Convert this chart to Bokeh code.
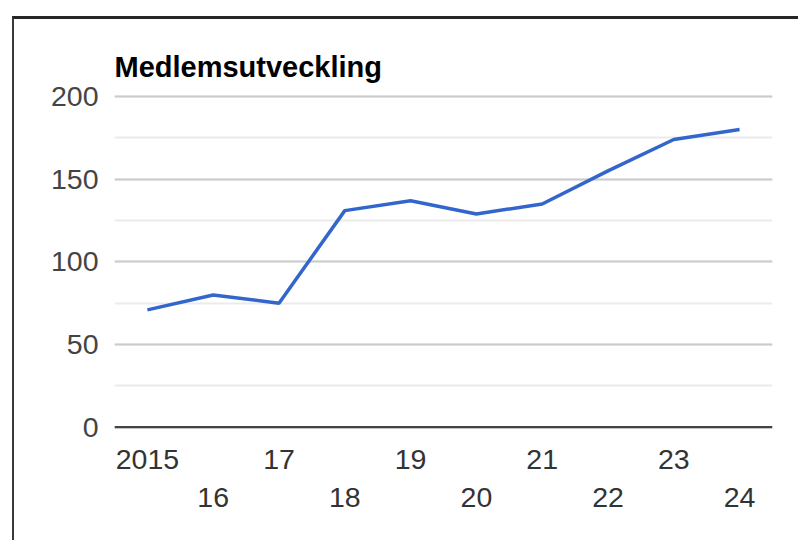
from bokeh.plotting import figure
from bokeh.layouts import column, row
from bokeh.models import Range1d, FixedTicker, LinearAxis, Span, SingleIntervalTicker, Spacer
from bokeh.embed import file_html
from bokeh.resources import INLINE

# ---- data ----
years = ["2015", "16", "17", "18", "19", "20", "21", "22", "23", "24"]
members = [71, 80, 75, 131, 137, 129, 135, 155, 174, 180]
title_text = "Medlemsutveckling"

FONT = "Liberation Sans"
idx = list(range(len(years)))

p = figure(width=786, height=524, output_backend="svg", toolbar_location=None,
           x_range=Range1d(-0.5, len(years) - 0.5), y_range=Range1d(-0.73, 201.2),
           min_border_left=100, min_border_right=28, min_border_top=75,
           min_border_bottom=115, x_axis_location=None, title=title_text)
p.styles = {"border-top": "3px solid #262626", "border-left": "2px solid #3a3a3a"}
p.outline_line_color = None
p.background_fill_color = "white"
p.border_fill_color = "white"

p.title.text_font = FONT
p.title.text_font_size = "29px"
p.title.text_font_style = "bold"
p.title.text_color = "black"
p.title.align = "left"
p.title.offset = 0
p.title.standoff = 24

# y axis
p.yaxis.ticker = SingleIntervalTicker(interval=50, num_minor_ticks=2)
p.yaxis.axis_line_color = None
p.yaxis.major_tick_line_color = None
p.yaxis.minor_tick_line_color = None
p.yaxis.major_label_text_font = FONT
p.yaxis.major_label_text_font_size = "28.5px"
p.yaxis.major_label_text_color = "#444444"
p.yaxis.major_label_standoff = 10

p.xgrid.visible = False
p.ygrid.grid_line_color = "#cccccc"
p.ygrid.grid_line_width = 2
p.ygrid.minor_grid_line_color = "#ebebeb"
p.ygrid.minor_grid_line_width = 2

# staggered x axes
even = [i for i in idx if i % 2 == 0]
odd = [i for i in idx if i % 2 == 1]
for ticks, standoff in ((even, 21), (odd, 16)):
    ax = LinearAxis(ticker=FixedTicker(ticks=ticks),
                    major_label_overrides={i: years[i] for i in ticks})
    ax.axis_line_color = None
    ax.major_tick_line_color = None
    ax.minor_tick_line_color = None
    ax.major_tick_out = 0
    ax.major_label_standoff = standoff
    ax.major_label_text_font = FONT
    ax.major_label_text_font_size = "28.5px"
    ax.major_label_text_color = "#333333"
    p.add_layout(ax, "below")

p.add_layout(Span(location=0, dimension="width", line_color="#444444", line_width=2.5))

p.line(idx, members, line_color="#3366cc", line_width=3.5)

layout = column(Spacer(height=16), row(Spacer(width=12), p))

open("out.html", "w").write(file_html(layout, INLINE))
